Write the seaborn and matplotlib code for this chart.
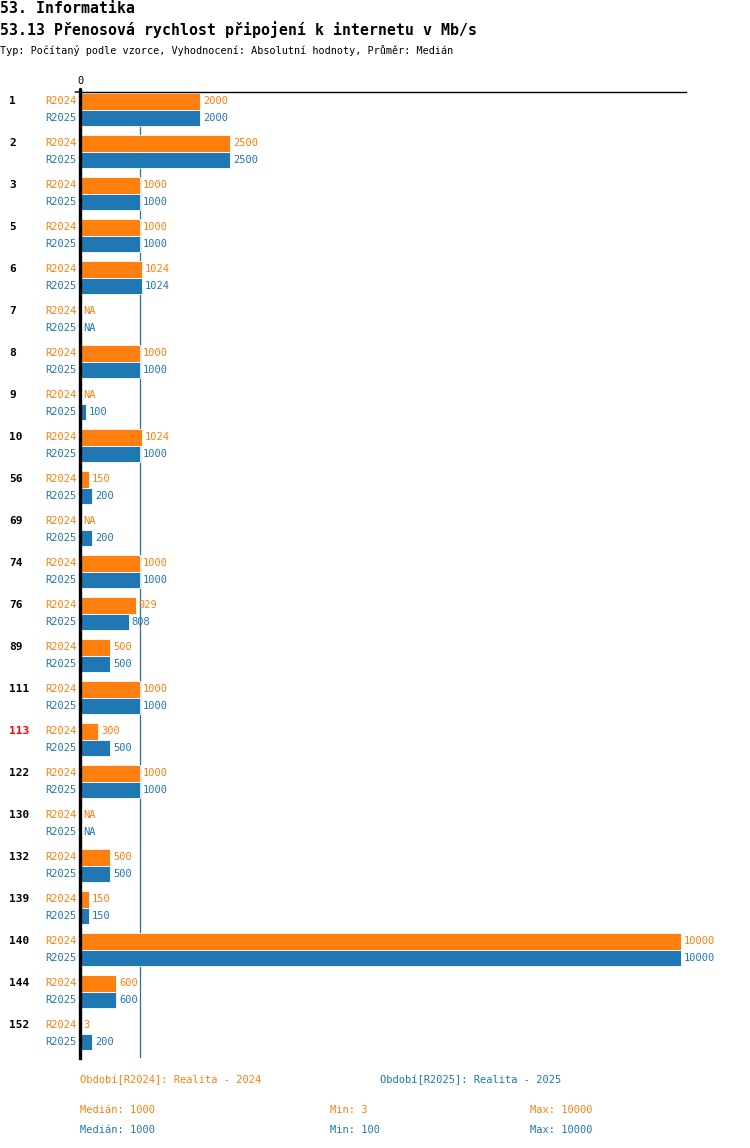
import pandas as pd
import numpy as np
import matplotlib
matplotlib.use('Agg')
import matplotlib.pyplot as plt
import seaborn as sns

# data
skupiny = ['1', '2', '3', '5', '6', '7', '8', '9', '10', '56', '69', '74', '76', '89',
           '111', '113', '122', '130', '132', '139', '140', '144', '152']
r2024 = [2000, 2500, 1000, 1000, 1024, np.nan, 1000, np.nan, 1024, 150, np.nan, 1000, 929, 500,
         1000, 300, 1000, np.nan, 500, 150, 10000, 600, 3]
r2025 = [2000, 2500, 1000, 1000, 1024, np.nan, 1000, 100, 1000, 200, 200, 1000, 808, 500,
         1000, 500, 1000, np.nan, 500, 150, 10000, 600, 200]
obdobi = ['R2024', 'R2025']
zvyraznene = ['113']
median_val = 1000

barvy = {'R2024': '#ff7f0e', 'R2025': '#1f77b4'}

df = pd.DataFrame({
    'skupina': skupiny * 2,
    'obdobi': ['R2024'] * len(skupiny) + ['R2025'] * len(skupiny),
    'hodnota': r2024 + r2025,
})

sns.set_theme(style='white')
plt.rcParams['font.family'] = ['DejaVu Sans Mono', 'DejaVu Sans']
plt.rcParams['text.color'] = 'black'

W, H = 750, 1148
fig = plt.figure(figsize=(W / 100, H / 100), dpi=100)
ax_top, ax_bot = 92, 1058
ax = fig.add_axes([80 / W, 1 - ax_bot / H, (686 - 80) / W, (ax_bot - ax_top) / H])

sns.barplot(data=df.dropna(), x='hodnota', y='skupina', hue='obdobi', order=skupiny,
            hue_order=obdobi, palette=barvy, orient='h', width=0.8, dodge=True,
            legend=False, saturation=1, linewidth=0.6, edgecolor='white', ax=ax, zorder=2)

ax.axvline(median_val, color='#2f6fa3', lw=0.9, zorder=0)

ax.set_xlim(0, 10083)
ax.set_ylim(len(skupiny) - 1 + 0.58, -0.417)
ax.set_xlabel('')
ax.set_ylabel('')
ax.set_yticks([])
ax.xaxis.tick_top()
ax.set_xticks([0])
ax.set_xticklabels(['0'], fontsize=7.5, color='black')
ax.tick_params(axis='x', length=0, pad=4)
for s in ['right', 'bottom']:
    ax.spines[s].set_visible(False)
ax.spines['left'].set_color('black')
ax.spines['left'].set_linewidth(2.4)
ax.spines['top'].set_color('black')
ax.spines['top'].set_linewidth(1)
# the axis line reaches a little above the top line, and the top line a little left
ax.plot([0, 0], [-0.417, -0.5], color='black', lw=2.4, clip_on=False, zorder=5)
ax.annotate('', xy=(0, -0.417), xytext=(-5, 0), textcoords='offset pixels',
            arrowprops=dict(arrowstyle='-', color='black', lw=1, shrinkA=0, shrinkB=0),
            annotation_clip=False)

fs = 7.5
for i, sk in enumerate(skupiny):
    for j, (per, vals) in enumerate(zip(obdobi, [r2024, r2025])):
        y = i - 0.2 + 0.4 * j
        c = barvy[per]
        ax.annotate(per, xy=(0, y), xytext=(-3, 0), textcoords='offset pixels',
                    ha='right', va='center', color=c, fontsize=fs, annotation_clip=False)
        v = vals[i]
        txt = 'NA' if np.isnan(v) else f'{v:g}'
        xv = 0 if np.isnan(v) else v
        ax.annotate(txt, xy=(xv, y), xytext=(3, 0), textcoords='offset pixels',
                    ha='left', va='center', color=c, fontsize=fs, annotation_clip=False)
    ax.annotate(sk, xy=(9, i - 0.2), xycoords=('figure pixels', 'data'),
                ha='left', va='center', fontsize=8, fontweight='bold',
                color='red' if sk in zvyraznene else 'black', annotation_clip=False)

# titles
fig.text(0, 1 - 13 / H, '53. Informatika', fontsize=10.7, fontweight='bold',
         va='baseline', ha='left', color='black')
fig.text(0, 1 - 35 / H, '53.13 Přenosová rychlost připojení k internetu v Mb/s',
         fontsize=10.7, fontweight='bold', va='baseline', ha='left', color='black')
fig.text(0, 1 - 54 / H, 'Typ: Počítaný podle vzorce, Vyhodnocení: Absolutní hodnoty, Průměr: Medián',
         fontsize=7.25, va='baseline', ha='left', color='black')

# legend / summary
def stat(vals, f):
    a = np.array(vals, dtype=float)
    return f'{f(a[~np.isnan(a)]):g}'

fig.text(80 / W, 1 - 1080 / H, 'Období[R2024]: Realita - 2024', color=barvy['R2024'],
         fontsize=fs, va='center')
fig.text(380 / W, 1 - 1080 / H, 'Období[R2025]: Realita - 2025', color=barvy['R2025'],
         fontsize=fs, va='center')
for per, vals, yp in [('R2024', r2024, 1110), ('R2025', r2025, 1130)]:
    c = barvy[per]
    fig.text(80 / W, 1 - yp / H, f'Medián: {stat(vals, np.median)}', color=c, fontsize=fs, va='center')
    fig.text(330 / W, 1 - yp / H, f'Min: {stat(vals, np.min)}', color=c, fontsize=fs, va='center')
    fig.text(530 / W, 1 - yp / H, f'Max: {stat(vals, np.max)}', color=c, fontsize=fs, va='center')

fig.savefig('out.png', dpi=100)
